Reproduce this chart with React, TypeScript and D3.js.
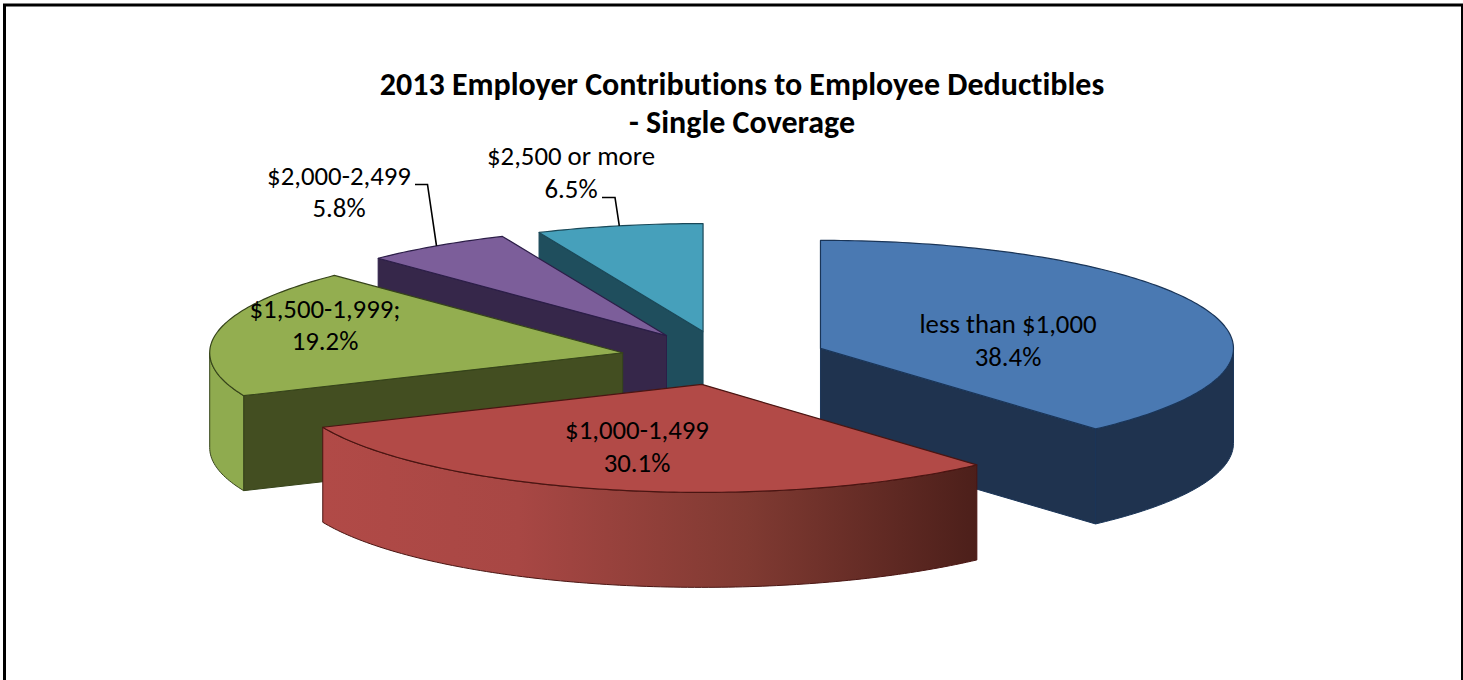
import * as d3 from "d3";
import React from "react";

const categories = ["less than $1,000", "$1,000-1,499", "$1,500-1,999", "$2,000-2,499", "$2,500 or more"];
const values = [38.4, 30.1, 19.2, 5.8, 6.5];
const topColors = ["#4a79b2", "#b24a47", "#93ae50", "#7c5e9a", "#46a0bb"];
const edgeColors = ["#1a3558", "#4a1512", "#36441a", "#2c1e48", "#1a4858"];
const cutColors = ["#1f334f", "#5a2420", "#434e21", "#36274a", "#1f4e5d"];
const outerColors = ["#1f334f", "url(#redWall)", "#8fab4f", "#36274a", "#1f4e5d"];
const titleLines = ["2013 Employer Contributions to Employee Deductibles", "- Single Coverage"];

// label text lines, x and baseline y of each line
const labelLines = [
  { lines: ["less than $1,000", "38.4%"], x: 1008, y: [333, 366] },
  { lines: ["$1,000-1,499", "30.1%"], x: 637, y: [438.5, 472] },
  { lines: ["$1,500-1,999;", "19.2%"], x: 325, y: [318, 350] },
  { lines: ["$2,000-2,499", "5.8%"], x: 339, y: [185, 217] },
  { lines: ["$2,500 or more", "6.5%"], x: 571, y: [165, 198] },
];

const width = 1463;
const height = 680;
const cx = 724;
const cy = 358;
const rx = 413;
const ry = 108;
const depth = 95;
const explode = 0.25;
const font = "Carlito, Lato, 'Open Sans', sans-serif";

const pie = d3.pie<number>().sort(null).value((d) => d);
const arcs = pie(values);

const lineGen = d3.line<[number, number]>();

// angle 0 at the top, clockwise, squashed to the ellipse
const project = (a: number, r = 1): [number, number] => [rx * r * Math.sin(a), -ry * r * Math.cos(a)];

const arcPoints = (a0: number, a1: number, ox: number, oy: number): [number, number][] => {
  const n = Math.max(2, Math.ceil((a1 - a0) * 60));
  return d3.range(n + 1).map((i) => {
    const [x, y] = project(a0 + ((a1 - a0) * i) / n);
    return [ox + x, oy + y];
  });
};

const App = () => {
  const slices = arcs.map((d, i) => {
    const mid = (d.startAngle + d.endAngle) / 2;
    const [ex, ey] = project(mid, explode);
    return { i, a0: d.startAngle, a1: d.endAngle, mid, ox: cx + ex, oy: cy + ey };
  });

  // back slices first, the red one sits in front of everything
  const order = [4, 3, 2, 0, 1];

  return (
    <svg
      width={width}
      height={height}
      style={{ position: "absolute", left: 0, top: 0, display: "block", background: "#fff" }}
    >
      <defs>
        <linearGradient id="redWall" gradientUnits="userSpaceOnUse" x1={322} x2={977} y1={0} y2={0}>
          <stop offset="0" stopColor="#b14a47" />
          <stop offset="0.3" stopColor="#a84744" />
          <stop offset="0.65" stopColor="#803a32" />
          <stop offset="1" stopColor="#4c1f1a" />
        </linearGradient>
      </defs>
      <rect x={4.5} y={5} width={1458} height={700} fill="none" stroke="#000" strokeWidth={3} />

      {order.map((i) => {
        const s = slices[i];
        const rim = arcPoints(s.a0, s.a1, s.ox, s.oy);
        const top = lineGen([[s.ox, s.oy], ...rim]) + "Z";
        const walls: React.ReactNode[] = [];

        // radial cut faces, only the ones turned towards the viewer
        [
          { a: s.a0, show: Math.sin(s.a0) < -1e-6 },
          { a: s.a1, show: Math.sin(s.a1) > 1e-6 },
        ].forEach(({ a, show }, k) => {
          if (!show) return;
          const [x, y] = project(a);
          const p: [number, number][] = [
            [s.ox, s.oy],
            [s.ox + x, s.oy + y],
            [s.ox + x, s.oy + y + depth],
            [s.ox, s.oy + depth],
          ];
          walls.push(
            <path key={`cut${k}`} d={lineGen(p) + "Z"} fill={cutColors[i]} stroke={edgeColors[i]} strokeWidth={1} />
          );
        });

        // outer rim wall, the lower half of the ellipse
        const w0 = Math.max(s.a0, Math.PI / 2);
        const w1 = Math.min(s.a1, (3 * Math.PI) / 2);
        if (w1 > w0) {
          const upper = arcPoints(w0, w1, s.ox, s.oy);
          const lower = arcPoints(w0, w1, s.ox, s.oy + depth).reverse();
          walls.push(
            <path
              key="outer"
              d={lineGen([...upper, ...lower]) + "Z"}
              fill={outerColors[i]}
              stroke={edgeColors[i]}
              strokeWidth={1}
            />
          );
        }

        return (
          <g key={categories[i]} strokeLinejoin="round">
            {walls}
            <path d={top} fill={topColors[i]} stroke={edgeColors[i]} strokeWidth={1.2} />
          </g>
        );
      })}

      {/* leader lines for the two small slices */}
      {[
        { i: 3, from: [415, 184.5], elbow: [427.5, 184.5] },
        { i: 4, from: [602, 197.5], elbow: [615, 197.5] },
      ].map(({ i, from, elbow }) => {
        const s = slices[i];
        const [x, y] = project(s.mid);
        const p: [number, number][] = [from as [number, number], elbow as [number, number], [s.ox + x, s.oy + y]];
        return <path key={i} d={lineGen(p) ?? ""} fill="none" stroke="#000" strokeWidth={1.6} />;
      })}

      {titleLines.map((t, i) => (
        <text
          key={t}
          x={742}
          y={94.5 + i * 38.5}
          textAnchor="middle"
          fontFamily={font}
          fontWeight={700}
          fontSize={32}
          fill="#000"
          style={{ fontVariantLigatures: "none" }}
        >
          {t}
        </text>
      ))}

      {labelLines.map((l, i) => (
        <text
          key={i}
          textAnchor="middle"
          fontFamily={font}
          fontSize={26.8}
          fill="#000"
          style={{ fontVariantLigatures: "none" }}
        >
          {l.lines.map((t, k) => (
            <tspan key={k} x={l.x} y={l.y[k]}>
              {t}
            </tspan>
          ))}
        </text>
      ))}
    </svg>
  );
};

export default App;
